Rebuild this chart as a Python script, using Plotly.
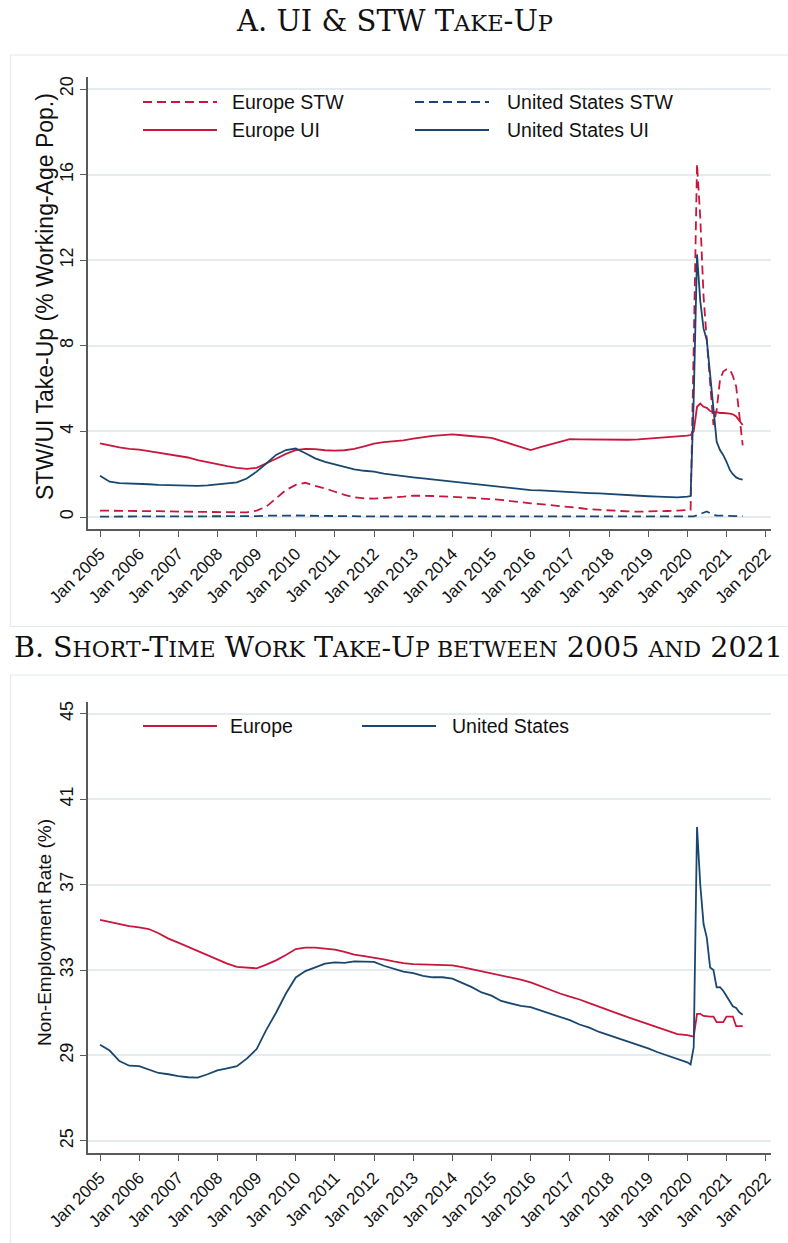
import plotly.graph_objects as go

# ---------------- data ----------------
quarters = [f"{y}-{m:02d}-01" for y in range(2005, 2020) for m in (1, 4, 7, 10)]
months = [f"{y}-{m:02d}-01" for y in (2020, 2021) for m in range(1, 13)][:18]
dates = quarters + months

# Panel A: take-up, % of working-age population
eu_ui = [
    3.44, 3.33, 3.25, 3.18,
    3.15, 3.08, 3.00, 2.92,
    2.85, 2.78, 2.66, 2.56,
    2.46, 2.38, 2.30, 2.25,
    2.30, 2.50, 2.72, 2.95,
    3.12, 3.18, 3.17, 3.12,
    3.10, 3.12, 3.18, 3.30,
    3.43, 3.50, 3.54, 3.58,
    3.66, 3.74, 3.79, 3.83,
    3.86, 3.82, 3.78, 3.74,
    3.70, 3.56, 3.41, 3.27,
    3.13, 3.26, 3.38, 3.51,
    3.64, 3.63, 3.62, 3.62,
    3.61, 3.60, 3.61, 3.63,
    3.66, 3.70, 3.74, 3.78,
    3.80, 3.83, 4.00, 5.15, 5.30, 5.15, 5.10, 4.95, 4.90, 4.90, 4.86, 4.86,
    4.86, 4.83, 4.80, 4.70, 4.50, 4.30,
]
us_ui = [
    1.93, 1.65, 1.58, 1.57,
    1.57, 1.53, 1.50, 1.48,
    1.47, 1.46, 1.45, 1.48,
    1.53, 1.56, 1.62, 1.80,
    2.12, 2.50, 2.90, 3.13,
    3.20, 2.98, 2.74, 2.58,
    2.46, 2.32, 2.23, 2.16,
    2.12, 2.03, 1.96, 1.90,
    1.85, 1.80, 1.75, 1.70,
    1.65, 1.60, 1.55, 1.48,
    1.44, 1.38, 1.33, 1.28,
    1.26, 1.24, 1.21, 1.19,
    1.18, 1.15, 1.12, 1.10,
    1.07, 1.04, 1.00, 0.98,
    0.97, 0.95, 0.93, 0.92,
    0.95, 0.98, 5.50, 12.27, 10.10, 8.80, 8.27, 6.70, 5.15, 3.52, 3.13, 2.90,
    2.58, 2.20, 2.00, 1.85, 1.78, 1.75,
]
eu_stw = [
    0.30, 0.30, 0.29, 0.29,
    0.28, 0.27, 0.27, 0.26,
    0.25, 0.25, 0.24, 0.23,
    0.22, 0.22, 0.22, 0.22,
    0.30, 0.48, 0.87, 1.26,
    1.50, 1.60, 1.45, 1.34,
    1.18, 1.03, 0.92, 0.87,
    0.86, 0.88, 0.90, 0.95,
    1.00, 1.00, 0.98, 0.96,
    0.95, 0.93, 0.90, 0.86,
    0.84, 0.80, 0.74, 0.68,
    0.64, 0.60, 0.56, 0.52,
    0.48, 0.42, 0.36, 0.33,
    0.30, 0.28, 0.26, 0.25,
    0.25, 0.26, 0.28, 0.30,
    0.30, 0.33, 8.00, 16.50, 14.00, 10.30, 8.27, 6.40, 4.30, 5.00, 6.40, 6.80,
    6.90, 6.90, 6.60, 6.10, 4.85, 3.35,
]
us_stw = [
    0.02, 0.02, 0.02, 0.02,
    0.02, 0.02, 0.02, 0.02,
    0.02, 0.02, 0.02, 0.02,
    0.02, 0.02, 0.02, 0.03,
    0.04, 0.06, 0.07, 0.07,
    0.07, 0.06, 0.05, 0.04,
    0.04, 0.03, 0.03, 0.03,
    0.03, 0.03, 0.03, 0.03,
    0.03, 0.03, 0.03, 0.03,
    0.03, 0.03, 0.03, 0.03,
    0.03, 0.03, 0.03, 0.03,
    0.03, 0.03, 0.03, 0.03,
    0.03, 0.03, 0.03, 0.03,
    0.03, 0.03, 0.03, 0.03,
    0.03, 0.03, 0.03, 0.03,
    0.02, 0.02, 0.03, 0.08, 0.15, 0.22, 0.26, 0.18, 0.10, 0.07, 0.06, 0.05,
    0.05, 0.05, 0.04, 0.04, 0.04, 0.04,
]

# Panel B: non-employment rate, %
eu_ne = [
    35.35, 35.25, 35.12, 35.05,
    35.00, 34.92, 34.72, 34.47,
    34.28, 34.08, 33.90, 33.68,
    33.50, 33.30, 33.15, 33.10,
    33.08, 33.25, 33.45, 33.70,
    33.98, 34.05, 34.05, 34.00,
    33.95, 33.85, 33.72, 33.65,
    33.58, 33.50, 33.40, 33.32,
    33.28, 33.26, 33.25, 33.25,
    33.22, 33.13, 33.03, 32.93,
    32.86, 32.76, 32.66, 32.55,
    32.42, 32.25, 32.05, 31.90,
    31.75, 31.62, 31.45, 31.27,
    31.10, 30.95, 30.78, 30.62,
    30.45, 30.30, 30.14, 30.00,
    29.95, 29.90, 29.88, 30.95, 30.95, 30.85, 30.82, 30.82, 30.82, 30.56, 30.56, 30.56,
    30.82, 30.82, 30.82, 30.37, 30.37, 30.37,
]
us_ne = [
    29.50, 29.23, 28.74, 28.52,
    28.50, 28.35, 28.18, 28.12,
    28.03, 27.98, 27.96, 28.12,
    28.30, 28.40, 28.50, 28.85,
    29.30, 30.20, 31.00, 31.90,
    32.65, 32.95, 33.12, 33.30,
    33.36, 33.33, 33.40, 33.40,
    33.38, 33.20, 33.05, 32.92,
    32.85, 32.72, 32.66, 32.66,
    32.60, 32.40, 32.20, 31.95,
    31.80, 31.55, 31.42, 31.32,
    31.26, 31.10, 30.95, 30.78,
    30.65, 30.45, 30.30, 30.10,
    29.95, 29.80, 29.65, 29.48,
    29.33, 29.15, 29.00, 28.85,
    28.68, 28.58, 29.39, 39.69, 37.00, 35.15, 34.52, 33.12, 33.00, 32.19, 32.20, 32.03,
    31.80, 31.57, 31.30, 31.22, 31.02, 30.91,
]

ticks_a = [0, 4, 8, 12, 16, 20]
ticks_b = [25, 29, 33, 37, 41, 45]

# ---------------- style ----------------
W, H = 788, 1243
RED = "#c8163c"
BLUE = "#1a476f"
GRID = "#e4ecef"
AX = "#5a5a5a"
SANS = "Liberation Sans, Arial, sans-serif"
SERIF = "DejaVu Serif, Liberation Serif, serif"


def px(x):
    return x / W


def py(y):
    return 1 - y / H


DASH = "9px,5px"
LW = 1.8

fig = go.Figure()
fig.add_trace(go.Scatter(x=dates, y=eu_stw, mode="lines", line=dict(color=RED, width=LW, dash=DASH),
                         xaxis="x", yaxis="y", showlegend=False))
fig.add_trace(go.Scatter(x=dates, y=us_stw, mode="lines", line=dict(color=BLUE, width=LW, dash=DASH),
                         xaxis="x", yaxis="y", showlegend=False))
fig.add_trace(go.Scatter(x=dates, y=eu_ui, mode="lines", line=dict(color=RED, width=LW),
                         xaxis="x", yaxis="y", showlegend=False))
fig.add_trace(go.Scatter(x=dates, y=us_ui, mode="lines", line=dict(color=BLUE, width=LW),
                         xaxis="x", yaxis="y", showlegend=False))
fig.add_trace(go.Scatter(x=dates, y=eu_ne, mode="lines", line=dict(color=RED, width=LW),
                         xaxis="x2", yaxis="y2", showlegend=False))
fig.add_trace(go.Scatter(x=dates, y=us_ne, mode="lines", line=dict(color=BLUE, width=LW),
                         xaxis="x2", yaxis="y2", showlegend=False))

xrange = ["2004-09-11", "2022-02-20"]
xcommon = dict(type="date", range=xrange, tick0="2005-01-01", dtick="M12", tickformat="%b %Y",
               tickangle=-45, ticks="outside", ticklen=6, tickwidth=1.4, tickcolor=AX, automargin=False,
               showline=True, linecolor=AX, linewidth=1.6, showgrid=False, zeroline=False,
               tickfont=dict(family=SANS, size=17, color="#111"), domain=[px(88), px(771)])
ycommon = dict(tickangle=-90, ticks="outside", ticklen=6, tickwidth=1.4, tickcolor=AX, automargin=False,
               showline=True, linecolor=AX, linewidth=1.6, showgrid=True, gridcolor=GRID, gridwidth=1.5,
               zeroline=False, tickfont=dict(family=SANS, size=18, color="#111"))

fig.update_layout(
    width=W, height=H, autosize=False,
    margin=dict(l=0, r=0, t=0, b=0),
    paper_bgcolor="white", plot_bgcolor="white",
    xaxis=dict(xcommon, anchor="y"),
    yaxis=dict(ycommon, anchor="x", range=[-0.575, 20.575], tickvals=ticks_a,
               domain=[py(529.3), py(76.7)]),
    xaxis2=dict(xcommon, anchor="y2"),
    yaxis2=dict(ycommon, anchor="x2", range=[24.42, 45.56], tickvals=ticks_b,
                domain=[py(1153.3), py(701.7)]),
)

shapes = []
annotations = []
# panel frames
shapes.append(dict(type="rect", xref="paper", yref="paper", x0=px(10.5), x1=px(800), y0=py(626.5), y1=py(55),
                   line=dict(color="#e3eaee", width=1.2), fillcolor="rgba(0,0,0,0)", layer="below"))
shapes.append(dict(type="rect", xref="paper", yref="paper", x0=px(10.5), x1=px(800), y0=py(1260), y1=py(675),
                   line=dict(color="#e3eaee", width=1.2), fillcolor="rgba(0,0,0,0)", layer="below"))

# legend keys (custom)
def key(x0, x1, y, color, dash=None):
    ln = dict(color=color, width=LW)
    if dash:
        ln["dash"] = dash
    shapes.append(dict(type="line", xref="paper", yref="paper", x0=px(x0), x1=px(x1), y0=py(y), y1=py(y), line=ln))


def label(x, y, text, size=19.5):
    annotations.append(dict(xref="paper", yref="paper", x=px(x), y=py(y), text=text, showarrow=False,
                            xanchor="left", yanchor="middle", font=dict(family=SANS, size=size, color="#111")))


key(143, 217, 102, RED, DASH); label(230, 102, "Europe STW")
key(415, 489, 102, BLUE, DASH); label(505, 102, "United States STW")
key(143, 217, 130, RED); label(230, 130, "Europe UI")
key(415, 489, 130, BLUE); label(505, 130, "United States UI")
key(143, 217, 726, RED); label(228, 726, "Europe")
key(362, 436, 726, BLUE); label(450, 726, "United States")

# axis titles
annotations.append(dict(xref="paper", yref="paper", x=px(45), y=py(297), text="STW/UI Take-Up (% Working-Age Pop.)",
                        textangle=-90, showarrow=False, xanchor="center", yanchor="middle",
                        font=dict(family=SANS, size=23, color="#111")))
annotations.append(dict(xref="paper", yref="paper", x=px(45), y=py(933), text="Non-Employment Rate (%)",
                        textangle=-90, showarrow=False, xanchor="center", yanchor="middle",
                        font=dict(family=SANS, size=19, color="#111")))

# panel titles (small caps)
def sc(s, size=22.5):
    return f"<span style='font-size:{size}px'>{s}</span>"


title_a = "A. UI &amp; STW T" + sc("AKE") + "-U" + sc("P")
title_b = ("B. S" + sc("HORT", 22) + "-T" + sc("IME", 22) + " W" + sc("ORK", 22) + " T" + sc("AKE", 22)
           + "-U" + sc("P BETWEEN", 22) + " 2005 " + sc("AND", 22) + " 2021")
annotations.append(dict(xref="paper", yref="paper", x=0.5, y=py(21), text=title_a, showarrow=False,
                        xanchor="center", yanchor="middle", font=dict(family=SERIF, size=29, color="#111")))
annotations.append(dict(xref="paper", yref="paper", x=px(398), y=py(647), text=title_b, showarrow=False,
                        xanchor="center", yanchor="middle", font=dict(family=SERIF, size=28.5, color="#111")))

fig.update_layout(shapes=shapes, annotations=annotations)
fig.write_html("out.html", config={"displayModeBar": False},
               post_script="document.body.style.margin='0px';document.body.style.padding='0px';")
